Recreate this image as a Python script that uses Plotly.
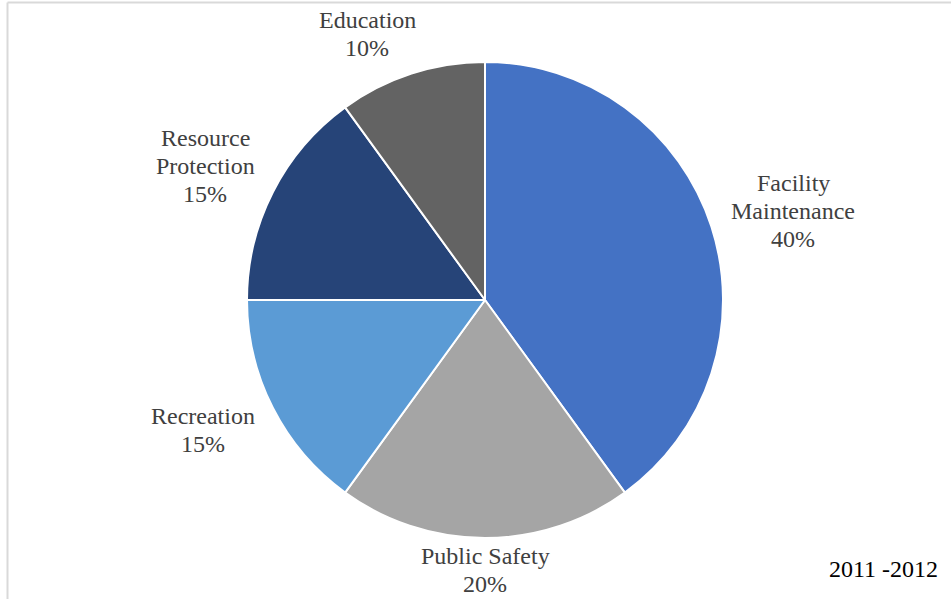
import plotly.graph_objects as go

# Program spending shares by category
categories = ["Facility Maintenance", "Public Safety", "Recreation", "Resource Protection", "Education"]
shares = [40, 20, 15, 15, 10]
colors = ["#4472C4", "#A5A5A5", "#5B9BD5", "#264478", "#636363"]
period_label = "2011 -2012"

# how each label wraps, and where its first line sits (pixels from top-left)
label_lines = [["Facility", "Maintenance"], ["Public Safety"], ["Recreation"], ["Resource", "Protection"], ["Education"]]
label_px = [(793, 183), (485, 556), (203, 416), (205, 138), (367, 20)]
line_step = 28

W, H = 951, 599
cx, cy, r = 485, 300, 238
FONT = "Liberation Serif"

fig = go.Figure(go.Pie(
    labels=categories,
    values=shares,
    sort=False,
    direction="clockwise",
    rotation=0,
    marker=dict(colors=colors, line=dict(color="white", width=2)),
    textinfo="none",
    hoverinfo="label+percent",
    domain=dict(x=[(cx - r) / W, (cx + r) / W], y=[(H - cy - r) / H, (H - cy + r) / H]),
    showlegend=False,
))

total = sum(shares)
annotations = []
for lines, v, (px, py) in zip(label_lines, shares, label_px):
    for i, txt in enumerate(lines + [f"{round(100 * v / total)}%"]):
        annotations.append(dict(
            x=px / W, y=1 - (py + i * line_step) / H, xref="paper", yref="paper",
            text=txt, showarrow=False, xanchor="center", yanchor="middle",
            font=dict(family=FONT, size=24, color="#404040"),
        ))
annotations.append(dict(
    x=883 / W, y=1 - 569 / H, xref="paper", yref="paper",
    text=period_label, showarrow=False, xanchor="center", yanchor="middle",
    font=dict(family=FONT, size=24, color="#000000"),
))

fig.update_layout(
    width=W, height=H,
    margin=dict(l=0, r=0, t=0, b=0),
    paper_bgcolor="white",
    plot_bgcolor="white",
    font=dict(family=FONT),
    annotations=annotations,
    shapes=[
        dict(type="line", xref="paper", yref="paper", x0=7.5 / W, x1=1.01, y0=1 - 2.5 / H, y1=1 - 2.5 / H,
             line=dict(color="#D9D9D9", width=2)),
        dict(type="line", xref="paper", yref="paper", x0=7.5 / W, x1=7.5 / W, y0=-0.01, y1=1 - 2.5 / H,
             line=dict(color="#D9D9D9", width=2)),
    ],
)

fig.write_html("out.html")
